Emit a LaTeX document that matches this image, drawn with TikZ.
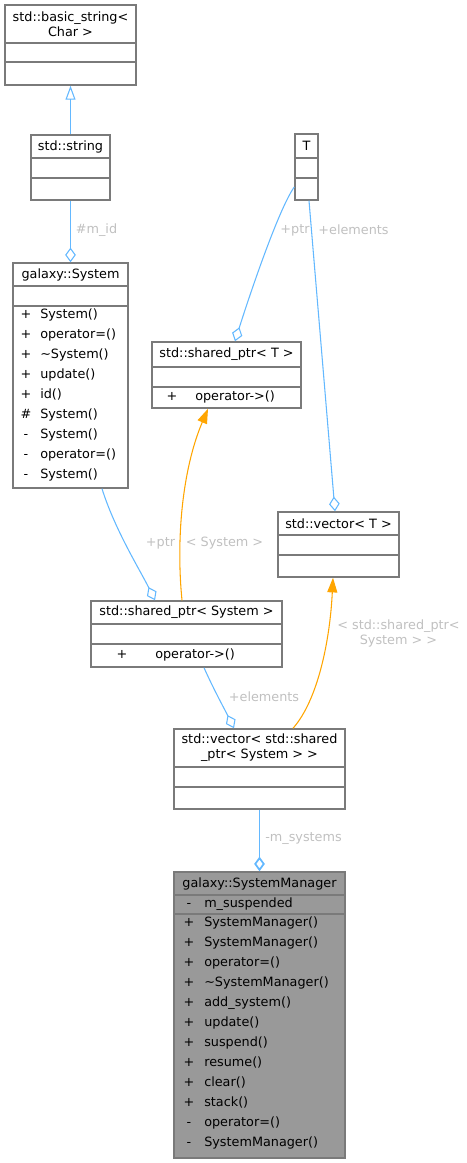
\documentclass[tikz,border=0pt]{standalone}
\usepackage{fontspec}
\setmainfont{DejaVu Sans}
\usetikzlibrary{arrows.meta,calc,fit}
\definecolor{boxgray}{HTML}{7A7A7A}
\definecolor{edgeblue}{HTML}{63B8FF}
\definecolor{edgeorange}{HTML}{FFA500}
\definecolor{labelgray}{HTML}{C0C0C0}
\definecolor{mgrfill}{HTML}{999999}

\tikzset{
  classbox/.style={draw=boxgray, line width=1.1pt, inner sep=0pt, fill=white},
  sepline/.style={draw=boxgray, line width=1.1pt},
  member/.style={anchor=mid west, inner sep=0pt},
  vis/.style={anchor=mid, inner sep=0pt},
  title/.style={align=center, inner sep=0pt},
  agg/.style={draw=edgeblue, line width=0.8pt, -{Diamond[open, length=11pt, width=8pt]}},
  inh/.style={draw=edgeblue, line width=0.8pt, -{Triangle[open, length=10.5pt, width=7.5pt]}},
  tmpl/.style={draw=edgeorange, line width=0.8pt, -{Triangle[length=11pt, width=7.5pt]}},
  elabel/.style={text=labelgray, align=center, inner sep=0pt}
}

\begin{document}
\begin{tikzpicture}[x=0.75pt, y=-0.75pt, font=\fontsize{9.6}{11.25}\selectfont]
    \useasboundingbox (0,0) rectangle (467,1163);

    % Class boxes
    \node[classbox, fit={(5,5) (136,85)}] (bstr) {};
    \node[classbox, fit={(31,135) (110,200)}] (str) {};
    \node[classbox, fit={(13,263) (128,488)}] (sys) {};
    \node[classbox, fit={(295,134) (318,200)}] (tcls) {};
    \node[classbox, fit={(152,342) (301,408)}] (sptrT) {};
    \node[classbox, fit={(278,512) (399,577)}] (vecT) {};
    \node[classbox, fit={(91,601) (282,667)}] (sptrSys) {};
    \node[classbox, fit={(174,729) (345,809)}] (vecSP) {};
    \node[classbox, fill=mgrfill, fit={(174,872) (345,1158)}] (mgr) {};

    % Compartment lines
    \draw[sepline] (5,43) -- (136,43) (5,62) -- (136,62);
    \draw[sepline] (31,158) -- (110,158) (31,178) -- (110,178);
    \draw[sepline] (13,286) -- (128,286) (13,306) -- (128,306);
    \draw[sepline] (295,158) -- (318,158) (295,178) -- (318,178);
    \draw[sepline] (152,367) -- (301,367) (152,387) -- (301,387);
    \draw[sepline] (278,535) -- (399,535) (278,555) -- (399,555);
    \draw[sepline] (91,624) -- (282,624) (91,644) -- (282,644);
    \draw[sepline] (174,767) -- (345,767) (174,787) -- (345,787);
    \draw[sepline] (174,895) -- (345,895) (174,914) -- (345,914);

    % Titles
    \node[title] (bstrT) at (70.5,24.5) {std::basic\_string<\\Char >};
    \node[title] (strT) at (70.5,146.5) {std::string};
    \node[title] (sysT) at (70.5,274.5) {galaxy::System};
    \node[title] (tclsT) at (306.5,146) {T};
    \node[title] (sptrTT) at (226.5,354.5) {std::shared\_ptr< T >};
    \node[title] (vecTT) at (338.5,523.5) {std::vector< T >};
    \node[title] (sptrSysT) at (186.5,612.5) {std::shared\_ptr< System >};
    \node[title] (vecSPT) at (259.5,748) {std::vector< std::shared\\\_ptr< System > >};
    \node[title] (mgrT) at (259.5,883.5) {galaxy::SystemManager};

    % Members
    \foreach \i/\v/\m in {0/+/System(), 1/+/operator=(), 2/+/{\textasciitilde System()},
        3/+/update(), 4/+/id(), 5/\#/System(), 6/-/System(), 7/-/operator=(), 8/-/System()} {
        \node[vis] (sysv\i) at (26,315+20*\i) {\v};
        \node[member] (sysm\i) at (40,315+20*\i) {\m};
    }
    \node[vis] (sptrTv) at (172,397) {+};
    \node[member] (sptrTm) at (195,397) {operator->()};
    \node[vis] (sptrSysv) at (122,655) {+};
    \node[member] (sptrSysm) at (155,655) {operator->()};

    \node[vis] (mgrav) at (189,904) {-};
    \node[member] (mgra) at (204,904) {m\_suspended};
    \foreach \i/\v/\m in {0/+/SystemManager(), 1/+/SystemManager(), 2/+/operator=(),
        3/+/{\textasciitilde SystemManager()}, 4/+/add\_system(), 5/+/update(), 6/+/suspend(),
        7/+/resume(), 8/+/clear(), 9/+/stack(), 10/-/operator=(), 11/-/SystemManager()} {
        \node[vis] (mgrv\i) at (189,923+20*\i) {\v};
        \node[member] (mgrm\i) at (204,923+20*\i) {\m};
    }

    % Relations
    \draw[inh] (str.north) -- (bstr.south);
    \draw[agg] (str.south) -- (sys.north);
    \draw[agg] ($(tcls.west)+(0,20)$) .. controls (278,210) and (248,300) .. ($(sptrT.north)+(8.5,0)$);
    \draw[agg] ($(tcls.south)+(2.5,0)$) -- ($(vecT.north)+(-3.5,0)$);
    \draw[agg] ($(sys.south)+(31.5,0)$) .. controls (115,530) and (140,570) .. ($(sptrSys.north)+(-31.5,0)$);
    \draw[tmpl] ($(sptrSys.north)+(-4.5,0)$) .. controls (176,540) and (182,470) .. ($(sptrT.south)+(-18.5,0)$);
    \draw[agg] ($(sptrSys.south)+(17.5,0)$) .. controls (214,690) and (225,710) .. ($(vecSP.north)+(-25.5,0)$);
    \draw[tmpl] ($(vecSP.north)+(33.5,0)$) .. controls (318,700) and (330,640) .. ($(vecT.south)+(-5.5,0)$);
    \draw[agg, line width=1.3pt] (vecSP.south) -- (mgr.north);

    % Edge labels
    \node[elabel] (lmid) at (96.5,230) {\#m\_id};
    \node[elabel] (lptrT) at (295,230) {+ptr};
    \node[elabel] (lelemT) at (353.5,230) {+elements};
    \node[elabel] (lptrS) at (160.5,543) {+ptr};
    \node[elabel] (lsys) at (224.5,543) {< System >};
    \node[elabel] (lsptr) at (398.5,633) {< std::shared\_ptr<\\System > >};
    \node[elabel] (lelemS) at (264,697) {+elements};
    \node[elabel] (lmsys) at (303.5,839) {-m\_systems};
\end{tikzpicture}
\end{document}
